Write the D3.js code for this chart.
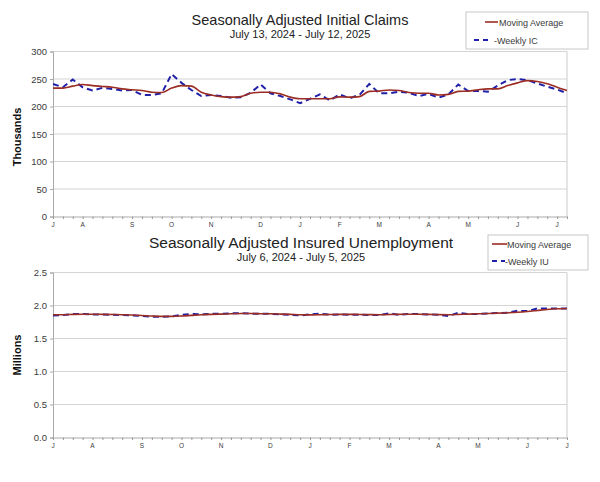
<!DOCTYPE html>
<html><head><meta charset="utf-8">
<script src="https://cdn.jsdelivr.net/npm/d3@7"></script>
<style>
body{margin:0;background:#fff;}
svg{display:block;font-family:"Liberation Sans",Arial,sans-serif;}
</style></head>
<body><svg id="c" width="600" height="482"></svg>
<script>
// ---------- DATA ----------
const monthLabels = ["J","A","S","O","N","D","J","F","M","A","M","J","J"];
// Initial claims: weeks Jul 13 2024 .. Jul 12 2025 (53 weeks), thousands
const icMonthWeeks = [0,3,8,12,16,21,25,29,33,38,42,47,51];
const icWeekly = [241,235,249,235,229,234,232,229,230,221,221,224,259,243,230,219,221,219,216,217,225,240,224,219,213,206,214,222,211,222,215,221,241,224,224,227,225,219,223,216,222,240,228,228,227,238,248,250,248,242,236,231,224];
const icMovingAvg = [233.5,233.5,237,240,238,236.5,235,232,230.5,229,226,225.5,233.5,238,237,226,221,218,217,218,224,226,226,223,217,214,214,214,214,217.5,217,218,227.5,228,230,229,225.5,224,224,221,222,227.5,228,230.5,232,232,238,243,247,245.5,241.5,235,229];
const icTicks = [0,50,100,150,200,250,300];
// Insured unemployment: weeks Jul 6 2024 .. Jul 5 2025 (53 weeks), millions
const iuMonthWeeks = [0,4,9,13,17,22,26,30,34,39,43,48,52];
const iuWeekly = [1.85,1.855,1.87,1.87,1.865,1.865,1.86,1.855,1.85,1.84,1.83,1.83,1.835,1.86,1.87,1.865,1.875,1.875,1.88,1.885,1.875,1.875,1.875,1.865,1.86,1.85,1.865,1.875,1.86,1.865,1.86,1.86,1.855,1.855,1.88,1.86,1.87,1.87,1.865,1.86,1.84,1.89,1.87,1.87,1.88,1.885,1.89,1.92,1.915,1.955,1.955,1.955,1.955];
const iuMovingAvg = [1.86,1.86,1.865,1.868,1.868,1.866,1.864,1.86,1.855,1.848,1.84,1.835,1.835,1.84,1.85,1.86,1.866,1.87,1.875,1.878,1.878,1.876,1.874,1.87,1.866,1.86,1.858,1.86,1.864,1.866,1.866,1.864,1.862,1.86,1.864,1.866,1.868,1.868,1.866,1.862,1.86,1.864,1.87,1.874,1.878,1.884,1.89,1.898,1.91,1.925,1.94,1.95,1.955];
const iuTicks = [0,0.5,1.0,1.5,2.0,2.5];

const svg = d3.select("#c");
const red = "#9b2d24", blue = "#2020a8", grid = "#d4d4d4", txt = "#3a3a3a";

function panel(o){
  const g = svg.append("g");
  const x = d3.scaleLinear().domain([0,52]).range([o.left,o.right]);
  const y = d3.scaleLinear().domain([0,o.ymax]).range([o.bottom,o.top]);
  g.selectAll("line.grid").data(o.ticks.filter(d=>d>0)).join("line")
    .attr("x1",o.left).attr("x2",o.right)
    .attr("y1",d=>y(d)).attr("y2",d=>y(d))
    .attr("stroke",grid).attr("stroke-width",1.2);
  g.append("line").attr("x1",o.right).attr("x2",o.right).attr("y1",o.top).attr("y2",o.bottom)
    .attr("stroke",grid).attr("stroke-width",1.2);
  const ya = d3.axisLeft(y).tickValues(o.ticks).tickSize(3).tickFormat(o.fmt);
  const yg = g.append("g").attr("transform",`translate(${o.left},0)`).call(ya);
  yg.select(".domain").attr("stroke","#aaa");
  yg.selectAll(".tick line").attr("stroke","#aaa");
  yg.selectAll("text").attr("fill",txt).style("font-size","9.5px").attr("x",-6);
  const xa = d3.axisBottom(x).tickValues(d3.range(0,53)).tickSize(2.5).tickFormat("");
  const xg = g.append("g").attr("transform",`translate(0,${o.bottom})`).call(xa);
  xg.select(".domain").attr("stroke","#aaa");
  xg.selectAll(".tick line").attr("stroke","#999");
  g.selectAll("text.mon").data(o.monthWeeks).join("text")
    .attr("x",d=>x(d)).attr("y",o.bottom+10)
    .attr("text-anchor","middle").style("font-size","6.5px").attr("fill",txt)
    .text((d,i)=>monthLabels[i]);
  g.append("text").attr("transform",`translate(${o.ytx},${o.yty}) rotate(-90)`)
    .attr("text-anchor","middle").style("font-size","11px").style("font-weight","bold")
    .attr("fill","#111").text(o.ytitle);
  g.append("text").attr("x",o.tx).attr("y",o.ty).attr("text-anchor","middle")
    .style("font-size",o.tsize).attr("fill","#222").text(o.title);
  g.append("text").attr("x",o.tx).attr("y",o.ty+13).attr("text-anchor","middle")
    .style("font-size","11px").attr("fill","#222").text(o.sub);
  const ln = d3.line().x((d,i)=>x(i)).y(d=>y(d));
  g.append("path").datum(o.weekly).attr("d",ln).attr("fill","none")
    .attr("stroke",blue).attr("stroke-width",2).attr("stroke-dasharray","6,4");
  const lm = d3.line().x((d,i)=>x(i)).y(d=>y(d)).curve(d3.curveMonotoneX);
  g.append("path").datum(o.ma).attr("d",lm).attr("fill","none")
    .attr("stroke",red).attr("stroke-width",1.6);
  const L = o.leg;
  g.append("rect").attr("x",L.x).attr("y",L.y).attr("width",L.w).attr("height",L.h)
    .attr("fill","#fff").attr("stroke","#c8c8c8").attr("stroke-width",1);
  g.append("line").attr("x1",L.lx1).attr("x2",L.lx2).attr("y1",L.y1).attr("y2",L.y1)
    .attr("stroke",red).attr("stroke-width",1.6);
  g.append("text").attr("x",L.tx).attr("y",L.y1+3.5).style("font-size","9px").attr("fill",txt).text("Moving Average");
  g.append("line").attr("x1",L.dx1).attr("x2",L.dx2).attr("y1",L.y2).attr("y2",L.y2)
    .attr("stroke",blue).attr("stroke-width",2).attr("stroke-dasharray","5,4");
  g.append("text").attr("x",L.tx2).attr("y",L.y2+3.5).style("font-size","9px").attr("fill",txt).text("-" + o.legName);
}

panel({left:53,right:567,top:51.5,bottom:216.5,ymax:300,ticks:icTicks,fmt:d3.format("d"),
  monthWeeks:icMonthWeeks,weekly:icWeekly,ma:icMovingAvg,
  ytitle:"Thousands",ytx:21,yty:137,
  title:"Seasonally Adjusted Initial Claims",sub:"July 13, 2024 - July 12, 2025",tx:300,ty:25,tsize:"14.5px",
  legName:"Weekly IC",
  leg:{x:466,y:12,w:122,h:37,y1:22,y2:40,lx1:485,lx2:498,tx:499,dx1:474,dx2:492,tx2:494}});

panel({left:53,right:567,top:272.5,bottom:437.5,ymax:2.5,ticks:iuTicks,fmt:d3.format(".1f"),
  monthWeeks:iuMonthWeeks,weekly:iuWeekly,ma:iuMovingAvg,
  ytitle:"Millions",ytx:21,yty:355,
  title:"Seasonally Adjusted Insured Unemployment",sub:"July 6, 2024 - July 5, 2025",tx:301,ty:248,tsize:"15.5px",
  legName:"Weekly IU",
  leg:{x:488,y:235,w:100,h:35,y1:244,y2:261,lx1:492,lx2:507,tx:507,dx1:492,dx2:505,tx2:505}});
</script></body></html>
